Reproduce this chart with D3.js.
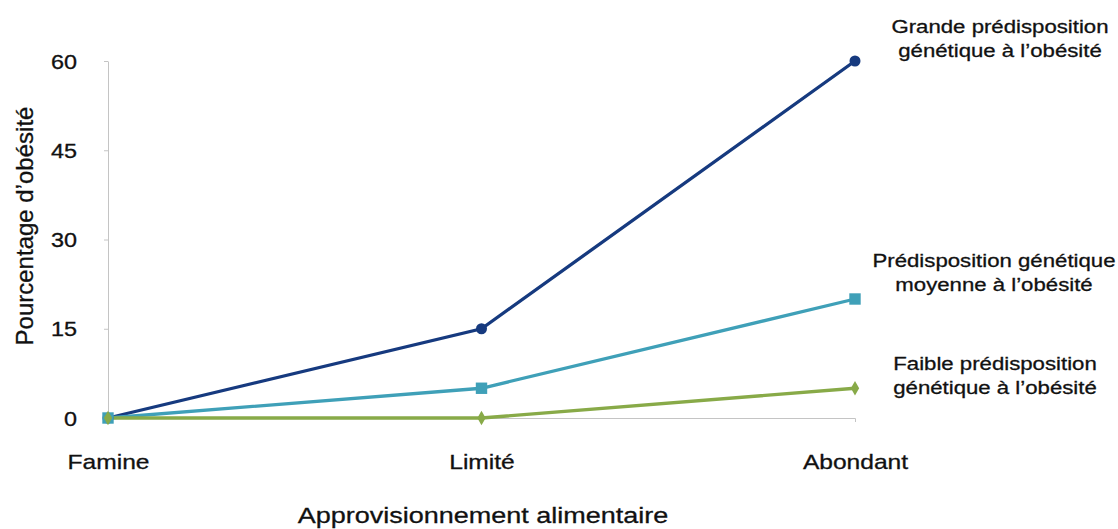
<!DOCTYPE html>
<html>
<head>
<meta charset="utf-8">
<script src="https://cdn.jsdelivr.net/npm/d3@7"></script>
<style>
  body { margin: 0; background: #fff; }
  svg { font-family: "Liberation Sans", Arial, sans-serif; }
</style>
</head>
<body>
<div id="chart"></div>
<script>
// categories on the x axis
const categories = ["Famine", "Limité", "Abondant"];
// y tick values
const yTicks = [0, 15, 30, 45, 60];
// series values (percentage of obesity)
const highValues = [0, 15, 60];
const mediumValues = [0, 5, 20];
const lowValues = [0, 0, 5];
// series labels (two lines each)
const highLabel = ["Grande prédisposition", "génétique à l’obésité"];
const mediumLabel = ["Prédisposition génétique", "moyenne à l’obésité"];
const lowLabel = ["Faible prédisposition", "génétique à l’obésité"];

const width = 1118, height = 529;
// the original picture is a bit wider than tall, so text gets stretched too
const stretch = 1.2;

const series = [
    { name: "high", values: highValues, label: highLabel, color: "#163a7f", marker: "circle", labelX: 1000, labelY: 33 },
    { name: "medium", values: mediumValues, label: mediumLabel, color: "#3fa0b8", marker: "square", labelX: 994, labelY: 267 },
    { name: "low", values: lowValues, label: lowLabel, color: "#88aa48", marker: "diamond", labelX: 995, labelY: 370 }
];

const svg = d3.select("#chart")
    .append("svg")
    .attr("width", width)
    .attr("height", height);

/* scales: points for categories, linear for percentage */
const xScale = d3.scalePoint()
    .domain(categories)
    .range([108, 855]);

const yScale = d3.scaleLinear()
    .domain([0, 60])
    .range([418, 61]);

/* y axis - light grey line with small outer ticks */
const yAxis = d3.axisLeft(yScale)
    .tickValues(yTicks)
    .tickSizeInner(4)
    .tickSizeOuter(0);

const yG = svg.append("g")
    .attr("transform", "translate(108,0)")
    .call(yAxis);
yG.select(".domain").attr("stroke", "#c4c4c4").attr("stroke-width", 1);
yG.selectAll(".tick line").attr("stroke", "#c4c4c4");
yG.selectAll(".tick text")
    .attr("x", null)
    .attr("dy", "0.36em")
    .attr("transform", "translate(-31,0) scale(" + stretch + ",1)")
    .attr("fill", "#111")
    .attr("stroke", "#111")
    .attr("stroke-width", 0.3)
    .style("font-size", "19.5px");

/* x axis - baseline with small ticks at both ends */
const xAxis = d3.axisBottom(xScale)
    .tickSizeInner(0)
    .tickSizeOuter(4);

const xG = svg.append("g")
    .attr("transform", "translate(0,418)")
    .call(xAxis);
xG.select(".domain").attr("stroke", "#c4c4c4").attr("stroke-width", 1);
xG.selectAll(".tick text")
    .attr("y", null)
    .attr("dy", null)
    .attr("transform", "translate(0,51) scale(" + stretch + ",1)")
    .attr("fill", "#111")
    .attr("stroke", "#111")
    .attr("stroke-width", 0.3)
    .style("font-size", "20.5px");

/* axis titles */
svg.append("text")
    .attr("transform", "translate(33,226) rotate(-90)")
    .attr("text-anchor", "middle")
    .style("font-size", "24px")
    .attr("fill", "#111")
    .attr("stroke", "#111")
    .attr("stroke-width", 0.3)
    .text("Pourcentage d’obésité");

svg.append("text")
    .attr("transform", "translate(483,523) scale(" + stretch + ",1)")
    .attr("text-anchor", "middle")
    .style("font-size", "22.5px")
    .attr("fill", "#111")
    .attr("stroke", "#111")
    .attr("stroke-width", 0.3)
    .text("Approvisionnement alimentaire");

/* lines and markers */
const line = d3.line()
    .x((d, i) => xScale(categories[i]))
    .y(d => yScale(d));

series.forEach(s => {
    svg.append("path")
        .datum(s.values)
        .attr("fill", "none")
        .attr("stroke", s.color)
        .attr("stroke-width", 3.3)
        .attr("d", line);
});

// markers after all lines, high first so the low series ends up on top
series.forEach(s => {
    let symbolType = d3.symbolCircle, size = 95;
    if (s.marker === "square") { symbolType = d3.symbolSquare; size = 130; }
    if (s.marker === "diamond") { symbolType = d3.symbolDiamond; size = 60; }

    svg.selectAll("path.m-" + s.name)
        .data(s.values)
        .enter()
        .append("path")
        .attr("class", "m-" + s.name)
        .attr("d", d3.symbol().type(symbolType).size(size))
        .attr("transform", (d, i) => "translate(" + xScale(categories[i]) + "," + yScale(d) + ")")
        .attr("fill", s.color);
});

/* series labels on the right */
series.forEach(s => {
    s.label.forEach((l, i) => {
        svg.append("text")
            .attr("transform", "translate(" + s.labelX + "," + (s.labelY + i * 24) + ") scale(" + stretch + ",1)")
            .attr("text-anchor", "middle")
            .style("font-size", "18.5px")
            .attr("fill", "#111")
            .attr("stroke", "#111")
            .attr("stroke-width", 0.3)
            .text(l);
    });
});
</script>
</body>
</html>
